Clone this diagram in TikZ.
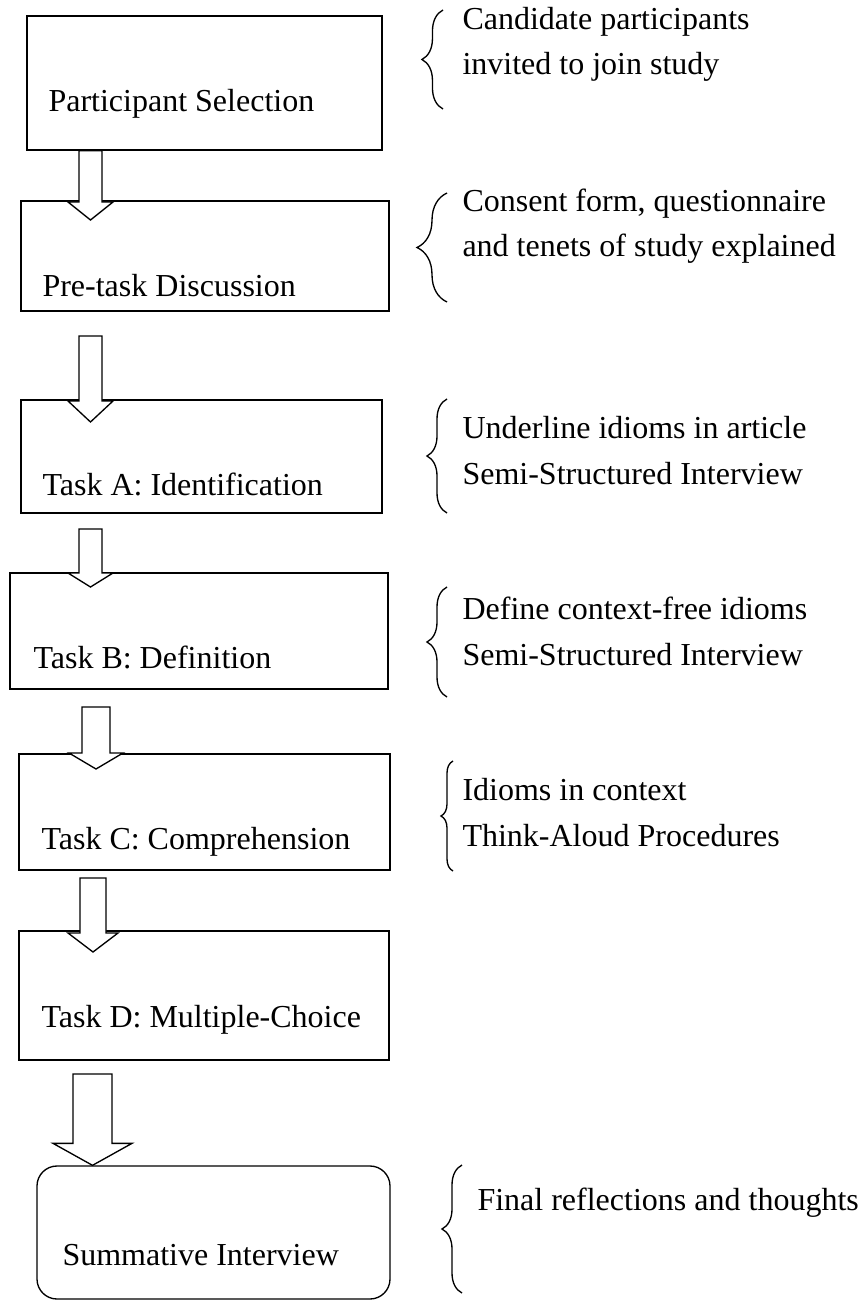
\documentclass[tikz,border=0pt]{standalone}
\usepackage{fontspec}
\setmainfont{Liberation Serif}
\usetikzlibrary{calc, fit, decorations.pathreplacing}

\begin{document}
\begin{tikzpicture}[x=0.375pt, y=-0.375pt,
    every node/.style={font=\fontsize{12}{16.9}\selectfont},
    stage/.style={draw, line width=0.5pt, inner sep=0pt},
    tag/.style={anchor=base west, inner sep=0pt},
    note/.style={anchor=base west, inner sep=0pt, align=left},
    curly/.style={decorate, decoration={brace, amplitude=#1}, line width=0.5pt},
    blockarrow/.style n args={3}{draw, fill=white, line width=0.5pt, to path={
        ($(\tikztostart)+(-#1,0)$) -- ($(\tikztotarget)+(-#1,-#3)$)
        -- ($(\tikztotarget)+(-#2,-#3)$) -- (\tikztotarget)
        -- ($(\tikztotarget)+(#2,-#3)$) -- ($(\tikztotarget)+(#1,-#3)$)
        -- ($(\tikztostart)+(#1,0)$) -- cycle}}]
  \useasboundingbox (0,0) rectangle (863,1301);

  % stages
  \node[stage, fit={(27,16) (382,150)}] (sel) {};
  \node[stage, fit={(21,201) (389,311)}] (pre) {};
  \node[stage, fit={(21,400) (382,513)}] (taskA) {};
  \node[stage, fit={(10,573) (388,689)}] (taskB) {};
  \node[stage, fit={(19,754) (390,870)}] (taskC) {};
  \node[stage, fit={(19,931) (389,1060)}] (taskD) {};
  \node[stage, rounded corners=7.5pt, fit={(37,1166) (390,1299)}] (summ) {};

  \node[tag] (selT) at (48,112) {Participant Selection};
  \node[tag] (preT) at (42,296) {Pre-task Discussion};
  \node[tag] (taskAT) at (42,495) {Task A: Identification};
  \node[tag] (taskBT) at (33,668) {Task B: Definition};
  \node[tag] (taskCT) at (41,849) {Task C: Comprehension};
  \node[tag] (taskDT) at (41,1027) {Task D: Multiple-Choice};
  \node[tag] (summT) at (62,1265) {Summative Interview};

  % block arrows
  \coordinate (a1s) at (sel.south -| 90.5,0);  \coordinate (a1t) at (90.5,220);
  \coordinate (a2s) at (90.5,336);             \coordinate (a2t) at (90.5,422);
  \coordinate (a3s) at (90.5,529);             \coordinate (a3t) at (90.5,587);
  \coordinate (a4s) at (96,707);               \coordinate (a4t) at (96,769);
  \coordinate (a5s) at (93,878);               \coordinate (a5t) at (93,952);
  \coordinate (a6s) at (92.5,1074);            \coordinate (a6t) at (summ.north -| 92.5,0);
  \draw[blockarrow={11.5}{22.5}{18}] (a1s) to (a1t);
  \draw[blockarrow={11.5}{22.5}{21}] (a2s) to (a2t);
  \draw[blockarrow={11.5}{22.5}{14}] (a3s) to (a3t);
  \draw[blockarrow={14}{27}{16}] (a4s) to (a4t);
  \draw[blockarrow={13}{25}{19}] (a5s) to (a5t);
  \draw[blockarrow={19.5}{39.5}{22}] (a6s) to (a6t);

  % side notes (base = last line)
  \draw[curly=7.9pt] (443,109) -- (443,10);
  \node[note] (selN) at (462,75) {Candidate participants\\invited to join study};
  \draw[curly=11.25pt] (447,302) -- (447,193);
  \node[note] (preN) at (462,257) {Consent form, questionnaire\\and tenets of study explained};
  \draw[curly=7.5pt] (447,513) -- (447,399);
  \node[note] (taskAN) at (462,484) {Underline idioms in article\\Semi-Structured Interview};
  \draw[curly=7.5pt] (447,697) -- (447,587);
  \node[note] (taskBN) at (462,665) {Define context-free idioms\\Semi-Structured Interview};
  \draw[curly=4.5pt] (453,871) -- (453,761);
  \node[note] (taskCN) at (462,846) {Idioms in context\\Think-Aloud Procedures};
  \draw[curly=7.5pt] (462,1293) -- (462,1165);
  \node[note] (summN) at (477,1210) {Final reflections and thoughts};
\end{tikzpicture}
\end{document}
